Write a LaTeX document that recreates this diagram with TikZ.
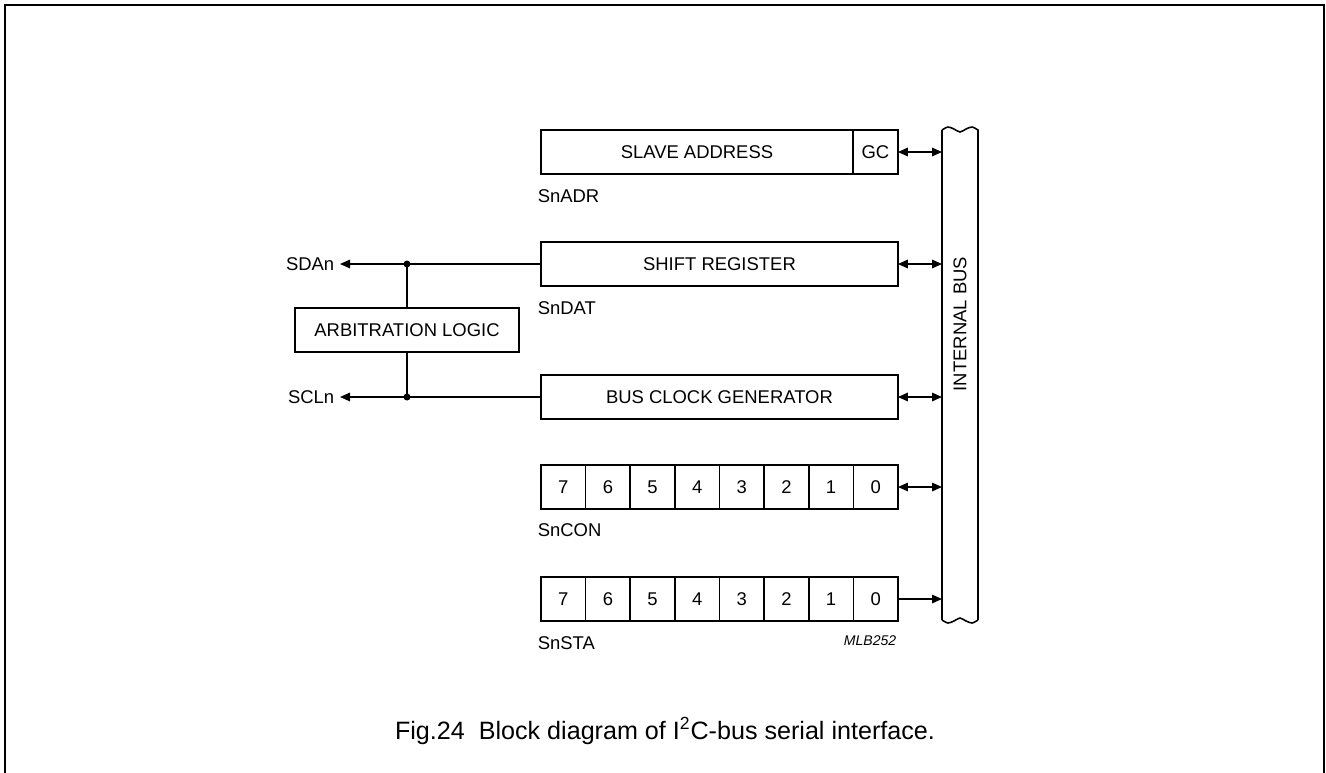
\documentclass[tikz,border=0pt]{standalone}
\usepackage{fontspec}
\setmainfont{Liberation Sans}
\usetikzlibrary{arrows.meta}

\begin{document}
\begin{tikzpicture}[x=0.02cm, y=-0.02cm, line width=0.9pt,
        >={Triangle[length=0.2cm,width=0.17cm]},
        font=\fontsize{10.5}{12}\selectfont]
        \useasboundingbox (0,0) rectangle (1326,772);
        \draw (5,5) rectangle (1324,776);

        \begin{scope}[every node/.style={draw,rectangle,outer sep=0pt,inner sep=0pt,minimum height=0.88cm}]
            \node [anchor=west, minimum width=6.24cm] (adr) at (541,152) {SLAVE ADDRESS};
            \node [anchor=west, minimum width=0.9cm]  (gc)  at (adr.east) {GC};
            \node [anchor=west, minimum width=7.14cm] (dat) at (541,264) {SHIFT REGISTER};
            \node [anchor=west, minimum width=7.14cm] (clk) at (541,397) {BUS CLOCK GENERATOR};
            \node [minimum width=4.48cm] (arb) at (407,330) {ARBITRATION LOGIC};
            \foreach \b [count=\i from 0] in {7,6,5,4,3,2,1,0} {
                \node [anchor=west, minimum width=0.8925cm] (con\b) at (541+\i*44.625,487) {\b};
                \node [anchor=west, minimum width=0.8925cm] (sta\b) at (541+\i*44.625,599) {\b};
            }
        \end{scope}

        \begin{scope}[every node/.style={inner sep=0pt}]
            \node [anchor=west] (adrname) at (537,196) {SnADR};
            \node [anchor=west] (datname) at (537,308) {SnDAT};
            \node [anchor=west] (conname) at (537,530) {SnCON};
            \node [anchor=west] (staname) at (537,643) {SnSTA};
            \node [anchor=east, inner xsep=0.1cm] (sda) at (340,264) {SDAn};
            \node [anchor=east, inner xsep=0.1cm] (scl) at (340,397) {SCLn};
            \node [anchor=east, font=\fontsize{8}{9}\selectfont\itshape] (mlb) at (897,641) {MLB252};
            \node [rotate=90] (buslabel) at (960,324) {INTERNAL BUS};
            \node [font=\fontsize{14.3}{16}\selectfont] (caption) at (665,731)
                {Fig.24\ \ Block diagram of I\textsuperscript{2}C-bus serial interface.};
        \end{scope}

        % internal bus
        \node [minimum width=0.72cm, minimum height=9.8cm, inner sep=0pt, outer sep=0pt] (bus) at (960,375) {};
        \draw (bus.south west) -- (942,130)
            plot [smooth] coordinates {(942,130) (948,127) (954,129) (960,132) (966,129) (972,127) (978,130)}
            -- (bus.south east);
        \draw plot [smooth] coordinates {(942,620) (948,623) (954,621) (960,618) (966,621) (972,623) (978,620)};

        \coordinate (sdadot) at (arb.north |- dat.west);
        \coordinate (scldot) at (arb.south |- clk.west);
        \fill (sdadot) circle (0.07cm);
        \fill (scldot) circle (0.07cm);

        \draw [->] (dat.west) -- (sda.east);
        \draw [->] (clk.west) -- (scl.east);
        \draw (sdadot) -- (arb.north);
        \draw (arb.south) -- (scldot);

        \draw [<->] (gc.east) -- (gc.east -| bus.west);
        \draw [<->] (dat.east) -- (dat.east -| bus.west);
        \draw [<->] (clk.east) -- (clk.east -| bus.west);
        \draw [<->] (con0.east) -- (con0.east -| bus.west);
        \draw [->] (sta0.east) -- (sta0.east -| bus.west);
    \end{tikzpicture}
\end{document}
